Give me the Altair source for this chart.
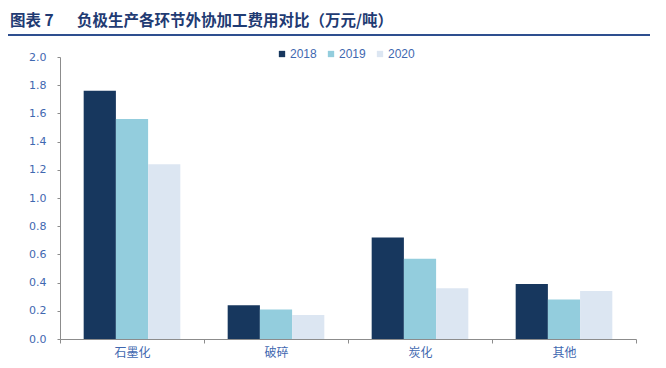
import altair as alt
import pandas as pd

categories = ["石墨化", "破碎", "炭化", "其他"]
years = ["2018", "2019", "2020"]
v2018 = [1.76, 0.24, 0.72, 0.39]
v2019 = [1.56, 0.21, 0.57, 0.28]
v2020 = [1.24, 0.17, 0.36, 0.34]
colors = ["#17375E", "#93CDDD", "#DCE6F2"]
y_ticks = [0.0, 0.2, 0.4, 0.6, 0.8, 1.0, 1.2, 1.4, 1.6, 1.8, 2.0]

rows = []
for yr, vals in zip(years, [v2018, v2019, v2020]):
    for c, v in zip(categories, vals):
        rows.append({"cat": c, "year": yr, "value": v})
df = pd.DataFrame(rows)

label_color = "#3F68B0"
axis_color = "#8C8C8C"

bars = alt.Chart(df).mark_bar(strokeWidth=0).encode(
    x=alt.X("cat:N", sort=categories, title=None,
            scale=alt.Scale(paddingInner=0, paddingOuter=0),
            axis=alt.Axis(labelAngle=0, tickBand="extent", domainColor=axis_color,
                          tickColor=axis_color, tickSize=4, labelColor=label_color,
                          labelFont="Noto Sans CJK SC", labelFontSize=12, labelPadding=4)),
    xOffset=alt.XOffset("year:N", sort=years,
                        scale=alt.Scale(paddingInner=0, paddingOuter=0.735)),
    y=alt.Y("value:Q", title=None,
            scale=alt.Scale(domain=[0, 2.0], nice=False),
            axis=alt.Axis(values=y_ticks, format=".1f", grid=False, domainColor=axis_color,
                          tickColor=axis_color, tickSize=3, labelColor=label_color,
                          labelFont="DejaVu Sans", labelFontSize=11, labelPadding=11)),
    color=alt.Color("year:N", sort=years,
                    scale=alt.Scale(domain=years, range=colors),
                    legend=alt.Legend(title=None, orient="none", legendX=216, legendY=-9,
                                      direction="horizontal", symbolType="square",
                                      symbolSize=40, symbolStrokeWidth=0,
                                      labelColor=label_color, labelFontSize=12,
                                      labelFont="Liberation Sans", labelOffset=2,
                                      columnPadding=8)),
)

line = alt.Chart(alt.Data(values=[{"a": 1}])).mark_rule(
    color="#2E4F8F", strokeWidth=2
).encode(x=alt.value(-52), x2=alt.value(590), y=alt.value(-22))

title_text = "图表\u00a07\u2003\u2002负极生产各环节外协加工费用对比（万元/吨）"

chart = alt.layer(bars, line).properties(
    width=576, height=282,
    autosize="none",
    padding={"left": 52, "top": 49, "right": 22, "bottom": 21},
    title=alt.TitleParams(
        title_text,
        anchor="start", frame="group", dx=-50, offset=5,
        font="Noto Sans CJK SC", fontSize=15.5, fontWeight="bold", color="#1F3B73",
    ),
).configure_view(stroke=None)

chart.save("out.html", embed_options={"renderer": "svg", "actions": False})
